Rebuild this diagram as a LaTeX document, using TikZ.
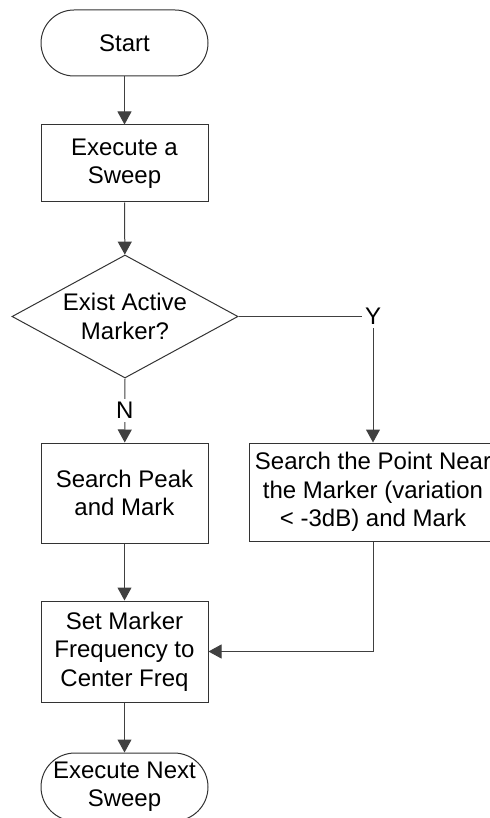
\documentclass[tikz,border=0pt]{standalone}
\usepackage{fontspec}
\setmainfont{Liberation Sans}
\usepackage{tikz}
\usetikzlibrary{arrows.meta,positioning,shapes.geometric}

\begin{document}
\begin{tikzpicture}[
                x=0.5pt, y=-0.5pt,
                font=\fontsize{12}{14.2}\selectfont,
                terminal/.style={rectangle, rounded corners=16.5pt, draw=black!80, line width=0.5pt, minimum width=83.5pt, minimum height=33pt, align=center, inner sep=0pt},
                process/.style={rectangle, draw=black!80, line width=0.5pt, minimum width=83.5pt, align=center, inner sep=0pt},
                decision/.style={diamond, draw=black!80, line width=0.5pt, aspect=1.84, minimum width=113pt, minimum height=61.5pt, align=center, inner sep=0pt},
                flow/.style={-{Triangle[length=6.5pt,width=7pt]}, draw=black!75, line width=0.5pt},
                lbl/.style={fill=white, inner sep=1.5pt},
            ]
            \useasboundingbox (0,0) rectangle (489,818);

            % main column
            \node[terminal] (start) at (124.5,43) {Start};
            \node[process, minimum height=38.5pt] (sweep) at (124.5,163.5) {Execute a\\Sweep};
            \node[decision] (dec) at (125,316.5) {Exist Active\\Marker?};
            \node[process, minimum height=50pt] (peak) at (124.5,493) {Search Peak\\and Mark};
            \node[process, minimum height=50.5pt] (setm) at (124.5,651.5) {Set Marker\\Frequency to\\Center Freq};
            \node[terminal, minimum height=34pt, rounded corners=17pt] (next) at (124.5,787) {Execute Next\\Sweep};

            % right branch
            \node[process, minimum width=124pt, minimum height=49pt] (near) at (373,492) {Search the Point Near\\the Marker (variation\\< -3dB) and Mark};

            \draw[flow] (start) -- (sweep);
            \draw[flow] (sweep) -- (dec);
            \draw[flow] (dec.south) -- node[lbl]{N} (peak);
            \draw[flow] (dec.east) -| node[lbl]{Y} (near.north);
            \draw[flow] (peak) -- (setm);
            \draw[flow] (near.south) |- (setm.east);
            \draw[flow] (setm) -- (next);
        \end{tikzpicture}
\end{document}
